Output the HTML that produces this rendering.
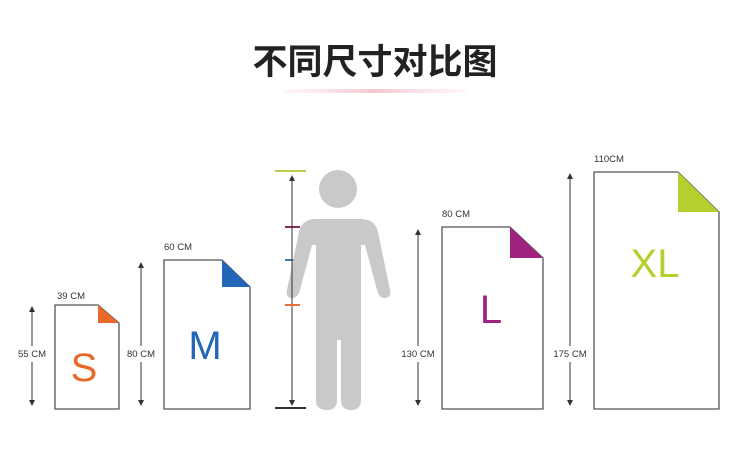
<!DOCTYPE html>
<html><head><meta charset="utf-8"><style>
html,body{margin:0;padding:0;background:#fff;}
svg{display:block}
</style></head><body>
<svg width="750" height="474" viewBox="0 0 750 474" xmlns="http://www.w3.org/2000/svg" font-family="Liberation Sans, sans-serif">
<defs>
<marker id="a" markerWidth="6" markerHeight="6" refX="3" refY="3" orient="auto-start-reverse"><path d="M0,0 L6,3 L0,6 z" fill="#333"/></marker>
<linearGradient id="g" x1="0" x2="1"><stop offset="0" stop-color="#fbe3e8" stop-opacity="0.3"/><stop offset="0.5" stop-color="#f5c6d0"/><stop offset="1" stop-color="#fbe3e8" stop-opacity="0.3"/></linearGradient>
</defs>
<text x="375" y="74" text-anchor="middle" font-family="Liberation Sans, Noto Sans CJK SC, sans-serif" font-size="35" font-weight="bold" fill="#222">不同尺寸对比图</text>
<rect x="283" y="89" width="184" height="4" rx="2" fill="url(#g)"/>

<g fill="none" stroke="#555" stroke-width="1.3">
<path d="M55,305 H98 L119,323 V409 H55 Z"/>
<path d="M164,260 H222 L250,287 V409 H164 Z"/>
<path d="M442,227 H510 L543,258 V409 H442 Z"/>
<path d="M594,172 H678 L719,212 V409 H594 Z"/>
</g>
<path d="M98,305 L119,323 H98 Z" fill="#e8692a"/>
<path d="M222,260 L250,287 H222 Z" fill="#2266b8"/>
<path d="M510,227 L543,258 H510 Z" fill="#a0237f"/>
<path d="M678,172 L719,212 H678 Z" fill="#b4cf2e"/>

<g font-size="9.5" fill="#333">
<text x="57" y="299">39 CM</text>
<text x="164" y="250">60 CM</text>
<text x="442" y="217">80 CM</text>
<text x="594" y="162">110CM</text>
</g>
<g stroke="#333" stroke-width="1">
<line x1="32" y1="309" x2="32" y2="346" marker-start="url(#a)"/><line x1="32" y1="362" x2="32" y2="403" marker-end="url(#a)"/>
<line x1="141" y1="265" x2="141" y2="346" marker-start="url(#a)"/><line x1="141" y1="362" x2="141" y2="403" marker-end="url(#a)"/>
<line x1="418" y1="232" x2="418" y2="346" marker-start="url(#a)"/><line x1="418" y1="362" x2="418" y2="403" marker-end="url(#a)"/>
<line x1="570" y1="176" x2="570" y2="346" marker-start="url(#a)"/><line x1="570" y1="362" x2="570" y2="403" marker-end="url(#a)"/>
<line x1="292" y1="178" x2="292" y2="403" marker-start="url(#a)" marker-end="url(#a)"/>
</g>
<g font-size="9.5" fill="#333" text-anchor="middle">
<text x="32" y="357">55 CM</text>
<text x="141" y="357">80 CM</text>
<text x="418" y="357">130 CM</text>
<text x="570" y="357">175 CM</text>
</g>
<line x1="275" y1="171" x2="306" y2="171" stroke="#b5d34a" stroke-width="2"/>
<line x1="275" y1="408" x2="306" y2="408" stroke="#333" stroke-width="2"/>
<line x1="285" y1="227" x2="300" y2="227" stroke="#8a2a5a" stroke-width="2"/>
<line x1="285" y1="260" x2="300" y2="260" stroke="#3a78b8" stroke-width="2"/>
<line x1="285" y1="305" x2="300" y2="305" stroke="#e8703a" stroke-width="2"/>

<g fill="#c9c9c9">
<circle cx="338" cy="189" r="19"/>
<path d="M316,219 H361 Q375,219 378,232 L390,290 Q392,298 384,298 Q379,298 377,290 L365,245 H361 V400 Q361,410 351,410 Q341,410 341,400 V340 H337 V400 Q337,410 327,410 Q316,410 316,400 V245 H312 L300,290 Q298,298 292,298 Q285,298 287,290 L299,232 Q302,219 316,219 Z"/>
</g>
<line x1="292" y1="225" x2="292" y2="300" stroke="#333" stroke-width="1"/>

<g font-size="40" text-anchor="middle">
<text x="84" y="381" fill="#e8692a">S</text>
<text x="205" y="359" fill="#2266b8">M</text>
<text x="491" y="323" fill="#a0237f">L</text>
<text x="655" y="277" fill="#b4cf2e">XL</text>
</g>
</svg>
</body></html>
